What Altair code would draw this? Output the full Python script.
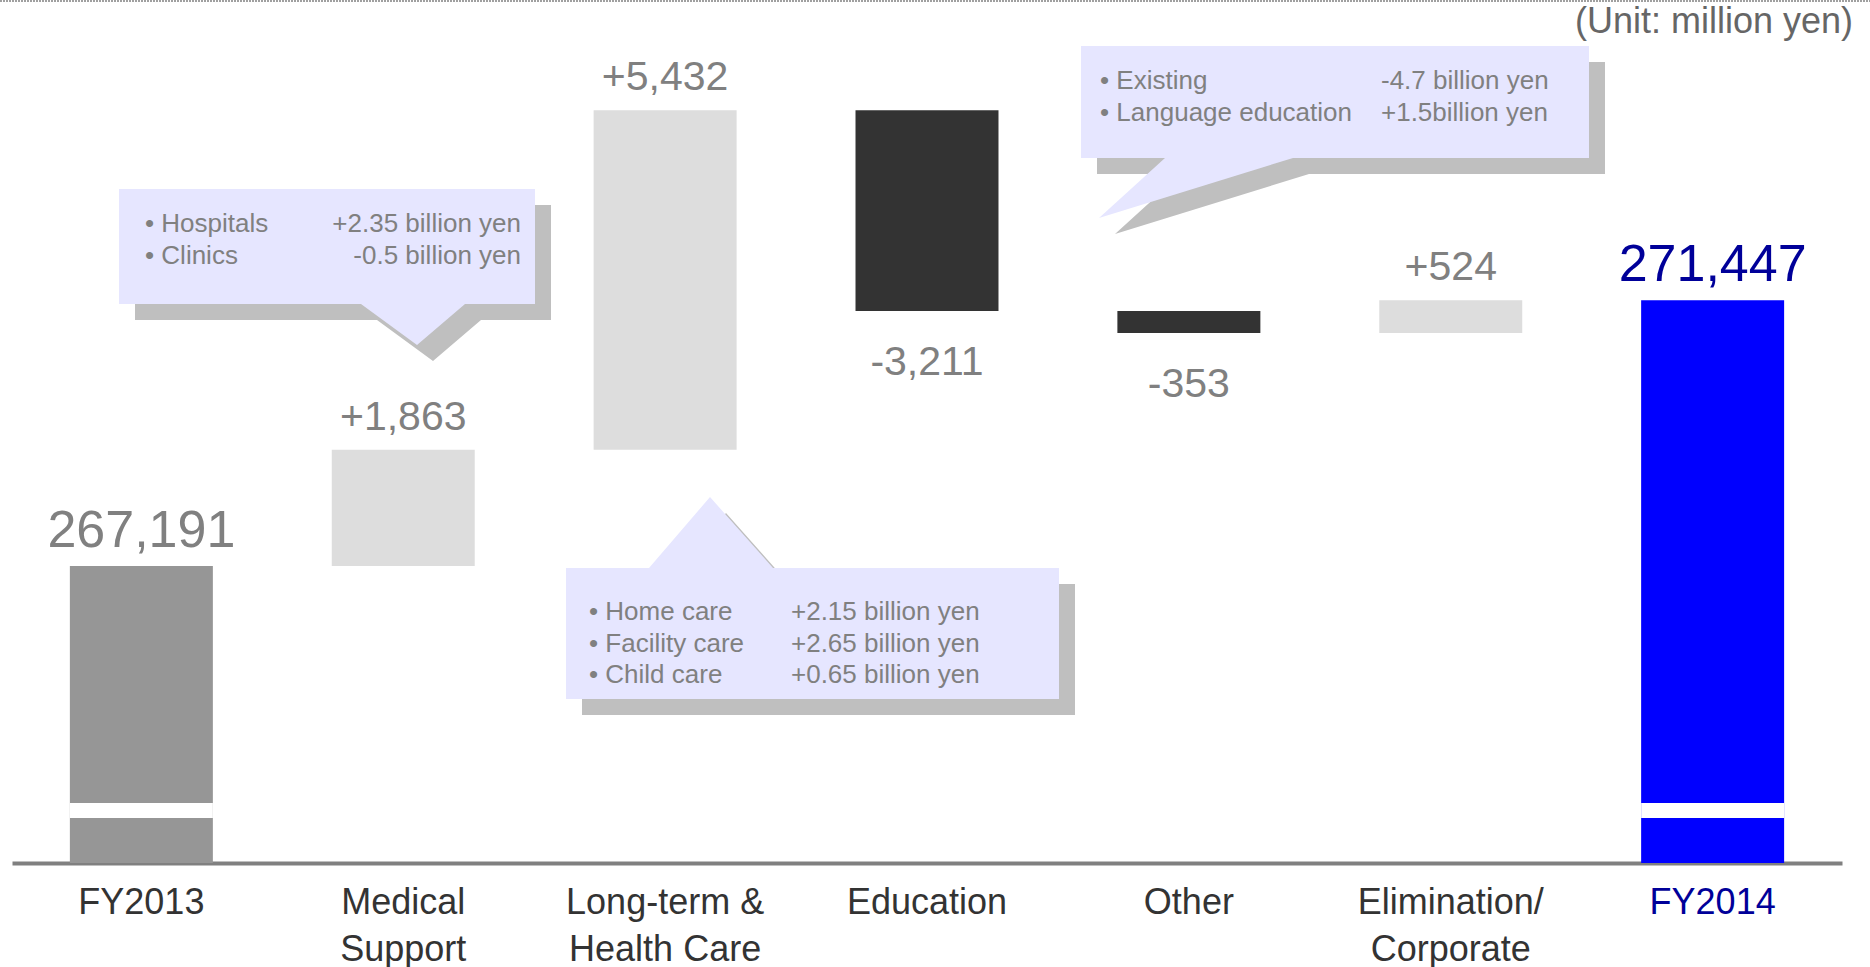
import altair as alt
import pandas as pd

# ---------------- data ----------------
categories = ["FY2013", "Medical|Support", "Long-term &|Health Care", "Education",
              "Other", "Elimination/|Corporate", "FY2014"]
amounts = [267191, 1863, 5432, -3211, -353, 524, 271447]
kinds = ["start", "up", "up", "down", "down", "up", "end"]
value_labels = ["267,191", "+1,863", "+5,432", "-3,211", "-353", "+524", "271,447"]

callout_medical_items = ["• Hospitals", "• Clinics"]
callout_medical_values = ["+2.35 billion yen", "-0.5 billion yen"]
callout_care_items = ["• Home care", "• Facility care", "• Child care"]
callout_care_values = ["+2.15 billion yen", "+2.65 billion yen", "+0.65 billion yen"]
callout_edu_items = ["• Existing", "• Language education"]
callout_edu_values = ["-4.7 billion yen", "+1.5billion yen"]
unit_note = "(Unit: million yen)"

# ---------------- waterfall table ----------------
rows = []
running = 0
for cat, amt, kind, lab in zip(categories, amounts, kinds, value_labels):
    if kind in ("start", "end"):
        lo, hi = 0, amt
        running = amt
    else:
        prev = running
        running = prev + amt
        lo, hi = min(prev, running), max(prev, running)
    rows.append({"category": cat, "kind": kind, "lo": lo, "hi": hi, "label": lab})
df = pd.DataFrame(rows)
totals = df[df.kind.isin(["start", "end"])]

# ---------------- layout / style ----------------
FONT = "Liberation Sans"
PAD_L, PAD_T = 12, 0
W, H = 1830, 863
BREAK = (20000, 263400)            # broken value axis
Y_DOMAIN = [0, BREAK[0], BREAK[1], 276250]
Y_RANGE = [H, 818, 803, 0]
yscale = alt.Scale(domain=Y_DOMAIN, range=Y_RANGE, zero=False, nice=False)

X = alt.X(
    "category:N", sort=categories,
    scale=alt.Scale(paddingInner=0.454, paddingOuter=0.221),
    axis=alt.Axis(
        title=None, ticks=False, labelAngle=0,
        labelExpr="split(datum.label, '|')",
        labelFont=FONT, labelFontSize=36, labelLineHeight=47,
        labelPadding=22, labelLimit=500, labelOverlap=False,
        labelColor=alt.condition("datum.value == 'FY2014'", alt.value("#000099"), alt.value("#333333")),
        domainColor="#808080", domainWidth=4,
    ),
)

one = pd.DataFrame({"k": [0]})


def poly(points, dx=0, dy=0):
    return "M" + " L".join(f"{x - PAD_L + dx},{y - PAD_T + dy}" for x, y in points) + " Z"


callout_shapes = [
    [(119, 189), (535, 189), (535, 304), (465, 304), (417, 345), (361, 304), (119, 304)],
    [(566, 568), (649, 568), (710, 497), (773, 568), (1059, 568), (1059, 699), (566, 699)],
    [(1081, 46), (1589, 46), (1589, 158), (1293, 158), (1099, 218), (1165, 158), (1081, 158)],
]


def shape_layer(path, color):
    return alt.Chart(one).mark_point(
        shape=path, size=4, filled=True, fill=color, strokeWidth=0, opacity=1
    ).encode(x=alt.value(0), y=alt.value(0))


layers = []
for pts in callout_shapes:
    layers.append(shape_layer(poly(pts, 16, 16), "#BFBFBF"))

bars = alt.Chart(df).mark_bar().encode(
    x=X,
    y=alt.Y("lo:Q", scale=yscale, axis=None),
    y2="hi:Q",
    color=alt.Color("kind:N", legend=None,
                    scale=alt.Scale(domain=["start", "up", "down", "end"],
                                    range=["#969696", "#DDDDDD", "#333333", "#0000FF"])),
)
layers.append(bars)

gap = alt.Chart(totals).mark_bar(color="white").encode(
    x=X, y=alt.datum(BREAK[0], scale=yscale), y2=alt.datum(BREAK[1])
)
layers.append(gap)

for pts in callout_shapes:
    layers.append(shape_layer(poly(pts), "#E6E6FF"))

# value labels
lab_start = alt.Chart(df[df.kind == "start"]).mark_text(
    font=FONT, fontSize=52, color="#808080", baseline="alphabetic", dy=-19
).encode(x=X, y=alt.Y("hi:Q", scale=yscale), text="label:N")
lab_end = alt.Chart(df[df.kind == "end"]).mark_text(
    font=FONT, fontSize=52, color="#000099", baseline="alphabetic", dy=-19
).encode(x=X, y=alt.Y("hi:Q", scale=yscale), text="label:N")
lab_up = alt.Chart(df[df.kind == "up"]).mark_text(
    font=FONT, fontSize=41, color="#808080", baseline="alphabetic", dy=-20
).encode(x=X, y=alt.Y("hi:Q", scale=yscale), text="label:N")
lab_down = alt.Chart(df[df.kind == "down"]).mark_text(
    font=FONT, fontSize=41, color="#808080", baseline="alphabetic", dy=64
).encode(x=X, y=alt.Y("lo:Q", scale=yscale), text="label:N")
layers += [lab_start, lab_end, lab_up, lab_down]


def note(lines, px, py, align="left", size=26, lh=32, color="#808080"):
    return alt.Chart(one).mark_text(
        text=lines, font=FONT, fontSize=size, lineHeight=lh, color=color,
        align=align, baseline="alphabetic"
    ).encode(x=alt.value(px - PAD_L), y=alt.value(py - PAD_T))


layers += [
    note(callout_medical_items, 145, 232),
    note(callout_medical_values, 521, 232, align="right"),
    note(callout_care_items, 589, 620, lh=31.5),
    note(callout_care_values, 791, 620, lh=31.5),
    note(callout_edu_items, 1100, 89),
    note(callout_edu_values, 1381, 89),
    note([unit_note], 1853, 33, align="right", size=36, color="#666666"),
]

top_rule = alt.Chart(one).mark_rule(color="#A0A0A0", strokeWidth=2, strokeDash=[2, 1]).encode(
    x=alt.value(-PAD_L), x2=alt.value(1870 - PAD_L), y=alt.value(1 - PAD_T)
)
layers.append(top_rule)

chart = alt.layer(*layers).properties(
    width=W, height=H,
    autosize=alt.AutoSizeParams(type="none"),
    padding={"left": PAD_L, "top": PAD_T, "right": 1870 - PAD_L - W, "bottom": 967 - PAD_T - H},
    background="white",
).configure_view(stroke=None)

chart.save("out.html", embed_options={"renderer": "svg", "actions": False})
